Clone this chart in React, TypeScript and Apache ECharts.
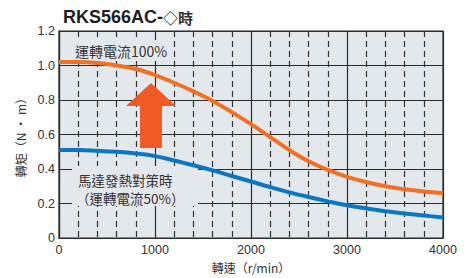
import React, { useEffect, useRef } from "react";
import * as echarts from "echarts";

const speeds = [0, 200, 400, 600, 800, 1000, 1200, 1400, 1600, 1800, 2000, 2200, 2400, 2600, 2800, 3000, 3200, 3400, 3600, 3800, 4000];
const torque100 = [1.02, 1.02, 1.015, 1.0, 0.98, 0.945, 0.9, 0.85, 0.795, 0.73, 0.66, 0.585, 0.51, 0.445, 0.395, 0.355, 0.325, 0.3, 0.283, 0.27, 0.26];
const torque50 = [0.51, 0.51, 0.506, 0.5, 0.49, 0.475, 0.45, 0.422, 0.392, 0.36, 0.328, 0.295, 0.265, 0.238, 0.213, 0.19, 0.172, 0.156, 0.143, 0.131, 0.12];
const titleMain = "RKS566AC-";
const titleSub = "◇時";
const label100 = "運轉電流100%";
const label50a = "馬達發熱對策時";
const label50b = "（運轉電流50%）";
const xName = "轉速（r/min）";
const yName = "轉矩（N · m）";

const PLOT_BG = "#e3e8ec";
const GRID_C = "#2b2b2b";
const ORANGE = "#f37021";
const BLUE = "#0a76c4";
const ARROW = "#f15a24";
const CJK = "'Noto Sans CJK TC', 'Noto Sans', sans-serif";
const LAT = "'Liberation Sans', Arial, sans-serif";

export default function App() {
  const ref = useRef<HTMLDivElement>(null);
  useEffect(() => {
    document.body.style.margin = "0";
    const chart = echarts.init(ref.current!, null, { renderer: "svg" });
    chart.setOption({
      animation: false,
      title: {
        text: `{a|${titleMain}}{b|${titleSub}}`,
        left: 58,
        top: 3,
        textStyle: {
          rich: {
            a: { fontFamily: LAT, fontWeight: "bold", fontSize: 18, color: "#1e1e1e" },
            b: { fontFamily: CJK, fontSize: 15, color: "#333" },
          },
        },
      },
      grid: {
        left: 59,
        top: 31,
        right: 27,
        bottom: 35,
        show: true,
        backgroundColor: PLOT_BG,
        borderColor: GRID_C,
        borderWidth: 1.2,
      },
      xAxis: {
        type: "value",
        min: 0,
        max: 4000,
        interval: 1000,
        name: xName,
        nameLocation: "middle",
        nameGap: 19,
        nameTextStyle: { fontFamily: CJK, fontSize: 12, color: "#333" },
        axisLine: { show: true, lineStyle: { color: GRID_C, width: 1.2 } },
        axisTick: { show: false },
        axisLabel: { fontFamily: LAT, fontSize: 12.5, color: "#333", margin: 5, formatter: (v: number) => String(v) },
        splitLine: { show: true, lineStyle: { color: GRID_C, width: 1.2 } },
        minorTick: { show: false, splitNumber: 5 },
        minorSplitLine: { show: true, lineStyle: { color: "#333", width: 1.2, type: [6, 4] } },
      },
      yAxis: {
        type: "value",
        min: 0,
        max: 1.2,
        interval: 0.2,
        name: yName,
        nameLocation: "middle",
        nameRotate: 90,
        nameGap: 27,
        nameTextStyle: { fontFamily: CJK, fontSize: 12, color: "#333" },
        axisLine: { show: true, lineStyle: { color: GRID_C, width: 1.2 } },
        axisTick: { show: false },
        axisLabel: {
          fontFamily: LAT,
          fontSize: 12.5,
          color: "#333",
          margin: 4,
          formatter: (v: number) => (v === 0 ? "0" : v.toFixed(1)),
        },
        splitLine: { show: true, lineStyle: { color: GRID_C, width: 1.2 } },
      },
      graphic: [
        {
          type: "group",
          z: 1,
          children: [
            { type: "rect", shape: { x: 66, y: 40, width: 104, height: 21 }, style: { fill: PLOT_BG }, z: 1 },
            {
              type: "text",
              x: 75,
              y: 51,
              z: 1,
              style: { text: label100, font: `14px ${CJK}`, fill: "#333", verticalAlign: "middle" },
            },
            { type: "rect", shape: { x: 72, y: 166, width: 126, height: 40 }, style: { fill: PLOT_BG }, z: 1 },
            {
              type: "text",
              x: 78,
              y: 179.5,
              z: 1,
              style: { text: label50a, font: `13.5px ${CJK}`, fill: "#333", verticalAlign: "middle" },
            },
            {
              type: "text",
              x: 76,
              y: 198,
              z: 1,
              style: { text: label50b, font: `13.5px ${CJK}`, fill: "#333", verticalAlign: "middle" },
            },
            {
              type: "polygon",
              z: 3,
              shape: {
                points: [
                  [151, 83],
                  [176, 106],
                  [162, 106],
                  [162, 148],
                  [140, 148],
                  [140, 106],
                  [126, 106],
                ],
              },
              style: { fill: ARROW },
            },
          ],
        },
      ],
      series: [
        {
          type: "line",
          data: speeds.map((s, i) => [s, torque100[i]]),
          smooth: 0.4,
          symbol: "none",
          lineStyle: { color: ORANGE, width: 4 },
          z: 2,
        },
        {
          type: "line",
          data: speeds.map((s, i) => [s, torque50[i]]),
          smooth: 0.4,
          symbol: "none",
          lineStyle: { color: BLUE, width: 4 },
          z: 2,
        },
      ],
    });
    return () => chart.dispose();
  }, []);
  return <div ref={ref} style={{ width: 470, height: 278 }} />;
}
